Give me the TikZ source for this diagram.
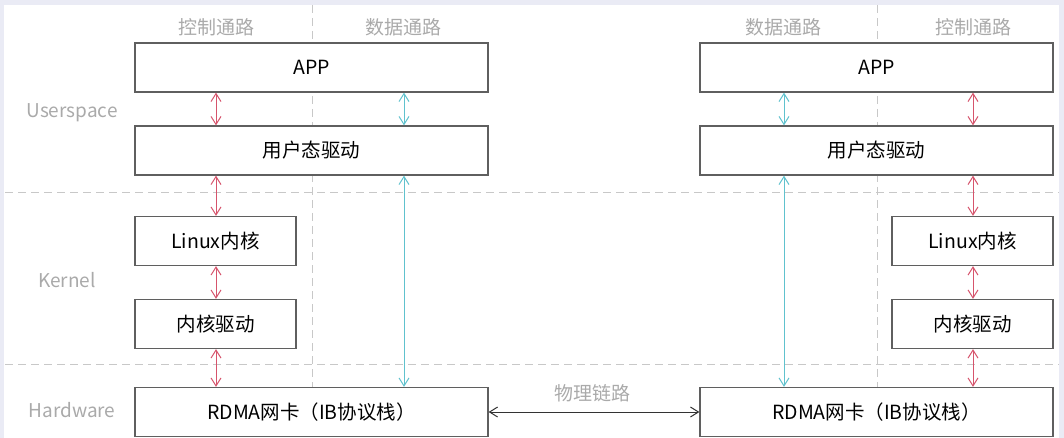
\documentclass[tikz,border=0pt]{standalone}
\usepackage{fontspec}
\setmainfont{Noto Sans CJK SC}
\usetikzlibrary{arrows.meta}
\definecolor{bgpanel}{RGB}{234,235,245}
\definecolor{gridgray}{RGB}{200,200,200}
\definecolor{lblgray}{RGB}{170,170,170}
\definecolor{boxedge}{RGB}{95,95,95}
\definecolor{ctrlred}{RGB}{214,84,108}
\definecolor{datacyan}{RGB}{96,194,206}
\tikzset{
  boxnode/.style={draw=boxedge, line width=1.3pt, fill=white, inner sep=0pt,
    minimum height=49pt, font=\fontsize{19.5}{22}\selectfont, text=black},
  widebox/.style={boxnode, minimum width=353pt},
  narrowbox/.style={boxnode, minimum width=161pt},
  graylabel/.style={text=lblgray, font=\fontsize{19}{21}\selectfont, inner sep=0pt},
  gridline/.style={draw=gridgray, line width=1pt, dash pattern=on 8pt off 5pt},
  twohead/.style={{Straight Barb[length=8pt,width=10pt]}-{Straight Barb[length=8pt,width=10pt]}, line width=1pt},
  redarrow/.style={twohead, draw=ctrlred},
  cyanarrow/.style={twohead, draw=datacyan},
  linkarrow/.style={twohead, draw=black!80},
}
\begin{document}
\begin{tikzpicture}[x=1pt,y=-1pt]
\useasboundingbox (0,0) rectangle (1064,438);
\fill[bgpanel] (0,0) rectangle (1064,438);
\fill[white] (4,5) rectangle (1059,438);

% grid line end points
\coordinate (vL) at (312,5);
\coordinate (vLe) at (312,387);
\coordinate (vR) at (877,5);
\coordinate (vRe) at (877,387);
\coordinate (hA) at (5,193);
\coordinate (hAe) at (1059,193);
\coordinate (hB) at (5,364);
\coordinate (hBe) at (1059,364);
\draw[gridline] (hA) -- (hAe);
\draw[gridline] (hB) -- (hBe);
\draw[gridline] (vL) -- (vLe);
\draw[gridline] (vR) -- (vRe);

% boxes
\node[widebox] (appL) at (311.5,67.5) {APP};
\node[widebox] (usrL) at (311.5,150.5) {用户态驱动};
\node[narrowbox] (linL) at (215.5,241) {Linux内核};
\node[narrowbox] (kdrL) at (215.5,324) {内核驱动};
\node[widebox] (rdmaL) at (311.5,412) {RDMA网卡（IB协议栈）};

\node[widebox] (appR) at (876.5,67.5) {APP};
\node[widebox] (usrR) at (876.5,150.5) {用户态驱动};
\node[narrowbox] (linR) at (972.5,241) {Linux内核};
\node[narrowbox] (kdrR) at (972.5,324) {内核驱动};
\node[widebox] (rdmaR) at (876.5,412) {RDMA网卡（IB协议栈）};

% column coordinates
\coordinate (redL) at (216,0);
\coordinate (cyanL) at (404,0);
\coordinate (redR) at (973,0);
\coordinate (cyanR) at (784,0);

% labels
\node[graylabel] (ctlL) at (216,27) {控制通路};
\node[graylabel] (datL) at (403,27) {数据通路};
\node[graylabel] (datR) at (783,27) {数据通路};
\node[graylabel] (ctlR) at (973,27) {控制通路};
\node[graylabel] (user) at (72,113) {Userspace};
\node[graylabel] (kern) at (67,280) {Kernel};
\node[graylabel] (hard) at (72,410) {Hardware};
\node[graylabel] (phys) at (592,393) {物理链路};

% left control path
\draw[redarrow] (appL.south -| redL) -- (usrL.north -| redL);
\draw[redarrow] (usrL.south -| redL) -- (linL.north -| redL);
\draw[redarrow] (linL.south -| redL) -- (kdrL.north -| redL);
\draw[redarrow] (kdrL.south -| redL) -- (rdmaL.north -| redL);
% left data path
\draw[cyanarrow] (appL.south -| cyanL) -- (usrL.north -| cyanL);
\draw[cyanarrow] (usrL.south -| cyanL) -- (rdmaL.north -| cyanL);

% right control path
\draw[redarrow] (appR.south -| redR) -- (usrR.north -| redR);
\draw[redarrow] (usrR.south -| redR) -- (linR.north -| redR);
\draw[redarrow] (linR.south -| redR) -- (kdrR.north -| redR);
\draw[redarrow] (kdrR.south -| redR) -- (rdmaR.north -| redR);
% right data path
\draw[cyanarrow] (appR.south -| cyanR) -- (usrR.north -| cyanR);
\draw[cyanarrow] (usrR.south -| cyanR) -- (rdmaR.north -| cyanR);

% physical link
\draw[linkarrow] (rdmaL.east) -- (rdmaR.west);
\end{tikzpicture}
\end{document}
